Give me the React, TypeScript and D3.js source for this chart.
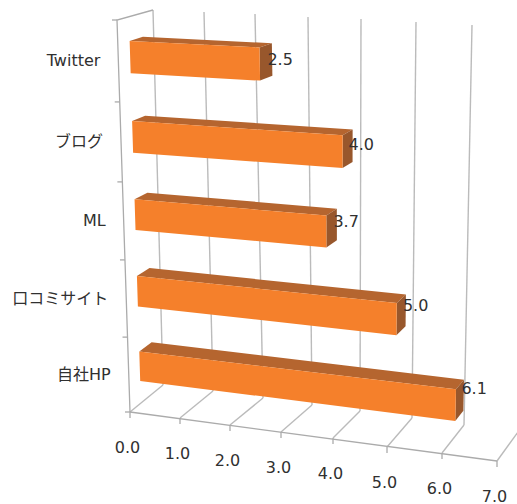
import React from "react";
import * as d3 from "d3";

// Chart values, listed top to bottom as they appear on the category axis.
const categories = ["Twitter", "ブログ", "ML", "口コミサイト", "自社HP"];
const seriesValues = [2.5, 4.0, 3.7, 5.0, 6.1];
const valueTicks = [0, 1, 2, 3, 4, 5, 6, 7];

// Perspective box: where each value tick lands on the four long edges of the box.
const frontBottomX = [130, 180, 230, 281, 333, 387, 442, 497];
const frontBottomY = [412, 418, 425, 432, 438, 447, 453, 461];
const frontTopX = [117, 168, 220, 276, 334, 392, 452, 510];
const frontTopY = [20, 22, 25, 27, 30, 32, 35, 37];
const backBottomX = [163, 213, 263, 312, 360, 412, 464, 518];
const backBottomY = [385, 391, 398, 405, 411, 418, 425, 432];
const backTopX = [153, 204, 255, 308, 361, 416, 472, 528];
const backTopY = [10, 12, 14, 17, 19, 22, 25, 28];
// Height of each category boundary along the vertical axis (0 = floor, 1 = top).
const bandHeights = [0, 0.191, 0.388, 0.587, 0.791, 1];

const edge = (range: number[]) => d3.scaleLinear().domain(valueTicks).range(range);
const fbx = edge(frontBottomX);
const fby = edge(frontBottomY);
const ftx = edge(frontTopX);
const fty = edge(frontTopY);
const bbx = edge(backBottomX);
const bby = edge(backBottomY);
const btx = edge(backTopX);
const bty = edge(backTopY);
const heightOf = d3.scaleLinear().domain(d3.range(6)).range(bandHeights);

// Vertical axis runs bottom-up, so the last category sits in the lowest band.
const band = d3
  .scaleBand<string>()
  .domain([...categories].reverse())
  .range([0, 5])
  .paddingInner(0.6)
  .paddingOuter(0.3);

type Pt = [number, number];

// Maps (value, height 0..1, depth 0..1) into screen space.
function project(u: number, v: number, w: number): Pt {
  const bottomX = fbx(u) + (bbx(u) - fbx(u)) * w;
  const bottomY = fby(u) + (bby(u) - fby(u)) * w;
  const topX = ftx(u) + (btx(u) - ftx(u)) * w;
  const topY = fty(u) + (bty(u) - fty(u)) * w;
  return [bottomX + (topX - bottomX) * v, bottomY + (topY - bottomY) * v];
}

const path = d3.line<Pt>();
const closed = (pts: Pt[]) => path(pts) + "Z";

const BAR_NEAR = 0.33;
const BAR_FAR = 0.7;
const FRONT = "#F5802B";
const TOP = "#B5652F";
const SIDE = "#98572C";
const GRID = "#BBBBBB";
const AXIS = "#ABABAB";
const TEXT = "#303030";
const FONT = '"DejaVu Sans", "Noto Sans CJK JP", sans-serif';

export default function App() {
  return (
    <svg
      width={517}
      height={504}
      style={{ position: "absolute", left: 0, top: 0, background: "#fff" }}
      fontFamily={FONT}
    >
      {/* back wall and floor grid */}
      {valueTicks.map((t) => (
        <g key={t} fill="none" stroke={GRID} strokeWidth={1.4}>
          <path d={path([project(t, 0, 1), project(t, 1, 1)]) ?? ""} />
          <path d={path([project(t, 0, 0), project(t, 0, 1)]) ?? ""} />
        </g>
      ))}

      {/* left wall edges and value axis */}
      <g fill="none" stroke={AXIS} strokeWidth={1.3}>
        <path d={path([project(0, 0, 0), project(0, 1, 0), project(0, 1, 1)]) ?? ""} />
        <path d={path([project(0, 0, 0), project(7, 0, 0)]) ?? ""} />
        {valueTicks.map((t) => {
          const [x, y] = project(t, 0, 0);
          return <path key={t} d={`M${x},${y}V${y + 6}`} />;
        })}
        {bandHeights.map((h) => {
          const [x, y] = project(0, h, 0);
          return <path key={h} d={`M${x - 5},${y}H${x}`} />;
        })}
      </g>

      {/* bars, farthest up the axis first */}
      {categories.map((c, i) => {
        const v0 = heightOf(band(c)!);
        const v1 = heightOf(band(c)! + band.bandwidth());
        const u = seriesValues[i];
        const topFace = closed([
          project(0, v1, BAR_NEAR),
          project(0, v1, BAR_FAR),
          project(u, v1, BAR_FAR),
          project(u, v1, BAR_NEAR),
        ]);
        const sideFace = closed([
          project(u, v0, BAR_NEAR),
          project(u, v1, BAR_NEAR),
          project(u, v1, BAR_FAR),
          project(u, v0, BAR_FAR),
        ]);
        const frontFace = closed([
          project(0, v0, BAR_NEAR),
          project(0, v1, BAR_NEAR),
          project(u, v1, BAR_NEAR),
          project(u, v0, BAR_NEAR),
        ]);
        return (
          <g key={c}>
            <path d={topFace} fill={TOP} />
            <path d={sideFace} fill={SIDE} />
            <path d={frontFace} fill={FRONT} />
          </g>
        );
      })}

      {/* data labels start just inside each bar's far end, centred on the band */}
      {categories.map((c, i) => {
        const mid = heightOf(band(c)! + band.bandwidth() / 2);
        const u = seriesValues[i];
        const [, y] = project(u, mid * 0.99, 1);
        const [farX] = project(u, mid, BAR_FAR);
        return (
          <text
            key={c}
            x={farX - 2 - 3 * mid}
            y={y + 6}
            textAnchor="start"
            fontSize={16}
            fill={TEXT}
          >
            {u.toFixed(1)}
          </text>
        );
      })}

      {/* category labels */}
      {categories.map((c) => {
        const mid = heightOf(band(c)! + band.bandwidth() / 2);
        const [x, y] = project(0, mid, 0);
        return (
          <text
            key={c}
            x={x - 18}
            y={y + 5}
            textAnchor="end"
            fontSize={16}
            fill={TEXT}
          >
            {c}
          </text>
        );
      })}

      {/* value axis labels */}
      {valueTicks.map((t) => {
        const [x, y] = project(t, 0, 0);
        return (
          <text
            key={t}
            x={x - 2.5}
            y={y + 40.5}
            textAnchor="middle"
            fontSize={16}
            fill={TEXT}
          >
            {t.toFixed(1)}
          </text>
        );
      })}
    </svg>
  );
}
